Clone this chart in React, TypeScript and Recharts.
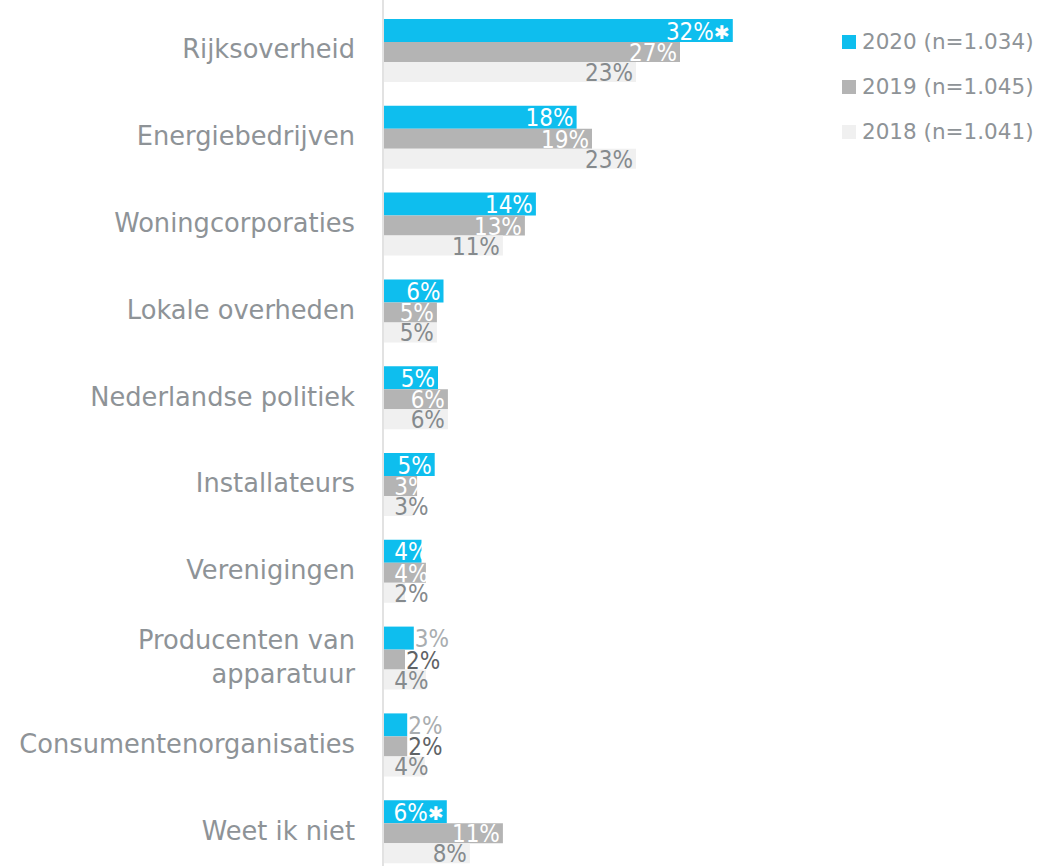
import { BarChart, Bar, XAxis, YAxis, LabelList } from 'recharts';

const categories = [
  'Rijksoverheid',
  'Energiebedrijven',
  'Woningcorporaties',
  'Lokale overheden',
  'Nederlandse politiek',
  'Installateurs',
  'Verenigingen',
  'Producenten van apparatuur',
  'Consumentenorganisaties',
  'Weet ik niet',
];

const values2020 = [31.8, 17.6, 13.9, 5.5, 5.0, 4.7, 3.5, 2.8, 2.2, 5.8];
const values2019 = [27.0, 19.0, 12.9, 4.9, 5.9, 3.1, 3.9, 2.0, 2.2, 10.9];
const values2018 = [23.0, 23.0, 10.9, 4.9, 5.9, 2.8, 2.0, 3.9, 3.8, 7.9];
const significant2020 = [true, false, false, false, false, false, false, false, false, true];

const seriesNames = ['2020 (n=1.034)', '2019 (n=1.045)', '2018 (n=1.041)'];

const data = categories.map((name, i) => ({
  name,
  y2020: values2020[i],
  y2019: values2019[i],
  y2018: values2018[i],
}));

const FONT = '"DejaVu Sans", sans-serif';
const LABEL_FONT = '"Liberation Sans Narrow", "DejaVu Sans Condensed", sans-serif';
const LABEL_SIZE = 24;
const GREY_TEXT = '#8e9397';
const COLORS = { y2020: '#0ebeee', y2019: '#b4b4b4', y2018: '#f0f0f0' };

function CategoryTick({ x, y, payload }: any) {
  const label: string = payload.value;
  let lines = [label];
  if (label.length > 24) {
    const idx = label.lastIndexOf(' ');
    lines = [label.slice(0, idx), label.slice(idx + 1)];
  }
  const lh = 34;
  const startY = y - ((lines.length - 1) * lh) / 2 - 1;
  return (
    <text
      x={x - 20}
      y={startY}
      textAnchor="end"
      dominantBaseline="central"
      fill={GREY_TEXT}
      fontSize={25.7}
      fontFamily={FONT}
    >
      {lines.map((l, i) => (
        <tspan key={i} x={x - 20} dy={i === 0 ? 0 : lh}>
          {l}
        </tspan>
      ))}
    </text>
  );
}

// label renderer for each series; small bars get their label outside,
// labels that don't fit are pushed right so they never start before the axis
function makeLabel(series: 'y2020' | 'y2019' | 'y2018') {
  return (props: any) => {
    const { x, y, width, height, value, index } = props;
    const v = Math.round(value);
    const cy = y + height / 2 + 1;
    let outside = false;
    let fill = '#ffffff';
    if (series === 'y2020' && v <= 3) { outside = true; fill = '#a9adb0'; }
    if (series === 'y2019' && v <= 2) { outside = true; fill = '#5f6366'; }
    if (series === 'y2018') fill = '#858a8d';
    const star = series === 'y2020' && significant2020[index];
    const textW = (String(v).length * 0.456 + 0.729) * LABEL_SIZE + (star ? 15 : 0);
    const endX = Math.max(x + width - 3, x + 17 + textW);
    return (
      <text
        x={outside ? x + width + 1 : endX}
        y={cy}
        textAnchor={outside ? 'start' : 'end'}
        dominantBaseline="central"
        fill={fill}
        fontSize={LABEL_SIZE}
        fontFamily={LABEL_FONT}
      >
        {v}%
        {star && <tspan fontSize={19} fontFamily="DejaVu Sans" fontWeight="bold">✱</tspan>}
      </text>
    );
  };
}

function ChartLegend() {
  const keys = ['y2020', 'y2019', 'y2018'] as const;
  return (
    <div style={{ position: 'absolute', left: 842, top: 19, fontFamily: FONT }}>
      {keys.map((k, i) => (
        <div key={k} style={{ display: 'flex', alignItems: 'center', height: 45 }}>
          <div style={{ width: 14, height: 14, background: COLORS[k], marginRight: 6 }} />
          <span style={{ fontSize: 21.5, color: GREY_TEXT, whiteSpace: 'nowrap' }}>{seriesNames[i]}</span>
        </div>
      ))}
    </div>
  );
}

export default function App() {
  return (
    <div style={{ position: 'absolute', left: 0, top: 0, width: 1064, height: 866, overflow: 'hidden', background: '#fff' }}>
      <BarChart
        width={1064}
        height={875}
        data={data}
        layout="vertical"
        margin={{ top: 0, right: 241, bottom: 0, left: 0 }}
        barGap={0}
      >
        <XAxis type="number" domain={[0, 40]} hide />
        <YAxis
          type="category"
          dataKey="name"
          width={383}
          axisLine={{ stroke: '#e2e2e2', strokeWidth: 2 }}
          tickLine={false}
          tick={<CategoryTick />}
          interval={0}
          padding={{ top: 7, bottom: 0 }}
        />
        <Bar dataKey="y2020" fill={COLORS.y2020} barSize={23} isAnimationActive={false}>
          <LabelList dataKey="y2020" content={makeLabel('y2020')} />
        </Bar>
        <Bar dataKey="y2019" fill={COLORS.y2019} barSize={20} isAnimationActive={false}>
          <LabelList dataKey="y2019" content={makeLabel('y2019')} />
        </Bar>
        <Bar dataKey="y2018" fill={COLORS.y2018} barSize={20} isAnimationActive={false}>
          <LabelList dataKey="y2018" content={makeLabel('y2018')} />
        </Bar>
      </BarChart>
      <ChartLegend />
    </div>
  );
}
